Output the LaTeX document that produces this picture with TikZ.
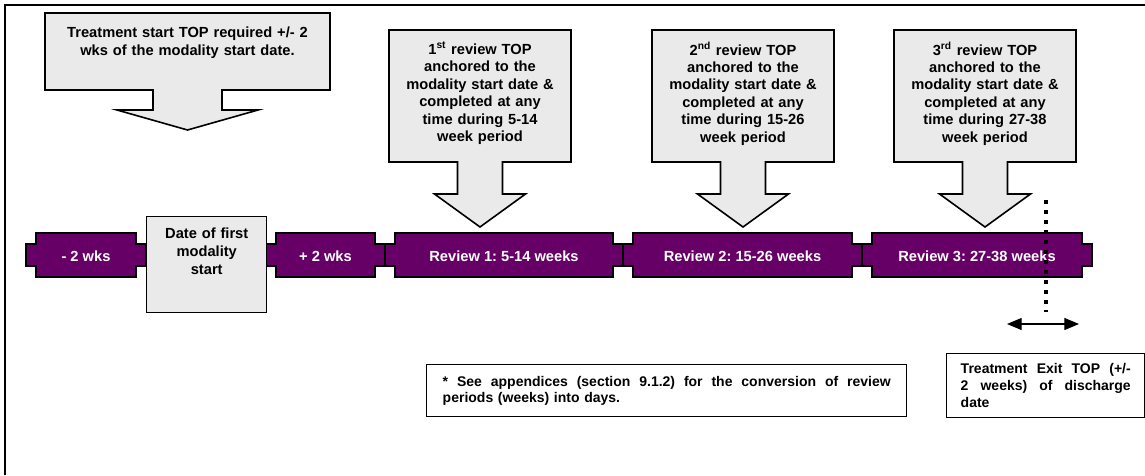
\documentclass[tikz,border=0pt]{standalone}
\usepackage{fontspec}
\setmainfont{Liberation Sans}
\usetikzlibrary{arrows.meta,positioning}
\definecolor{plum}{HTML}{660066}
\definecolor{pale}{HTML}{EAEAEA}
\newcommand{\spreadline}[2]{\makebox[#1][s]{\spaceskip=0.28em plus 1fil\relax #2}}

\begin{document}
\frenchspacing
\begin{tikzpicture}[x=0.75pt,y=-0.75pt,
  font=\bfseries\fontsize{11}{13.5}\selectfont,
  callout/.style={draw=black,line width=1.2pt,fill=pale,line join=miter},
  calltext/.style={anchor=north,inner sep=0pt,align=center,text width=132pt},
  seg/.style={draw=black,line width=1.1pt,fill=plum},
  segtext/.style={text=white,inner sep=0pt},
  datebox/.style={draw=black,line width=1.1pt,fill=pale,minimum width=90pt,minimum height=72pt,inner sep=0pt,anchor=north west},
  notebox/.style={draw=black,line width=1.1pt,fill=white,inner sep=0pt,align=left,anchor=north west},
  dotline/.style={line width=3.2pt,dash pattern=on 3.2pt off 4.3pt},
  span/.style={{Triangle[length=11pt,width=9pt]}-{Triangle[length=11pt,width=9pt]},line width=0.8pt}]
  \useasboundingbox (0,0) rectangle (1145,475);
  \draw[line width=1.5pt] (5,475) -- (5,5) -- (1145,5);
  % start callout
  \draw[callout] (45,13) -- (330,13) -- (330,90) -- (222,90) -- (222,110) -- (258,110) -- (187.5,130)
    -- (117,110) -- (153,110) -- (153,90) -- (45,90) -- cycle;
  \node[calltext,text width=205pt] (start) at (187.5,27) {Treatment start TOP required +/- 2\\wks of the modality start date.};
  % review callouts at box centres
  \foreach \c/\n/\sx/\rng/\nm in {480/1/st/5-14/revA, 743/2/nd/15-26/revB, 985/3/rd/27-38/revC}{
    \draw[callout] ({\c-91},30) -- ({\c+91},30) -- ({\c+91},162) -- ({\c+22.5},162) -- ({\c+22.5},194)
      -- ({\c+45.5},194) -- (\c,227) -- ({\c-45.5},194) -- ({\c-22.5},194) -- ({\c-22.5},162) -- ({\c-91},162) -- cycle;
    \node[calltext,font=\bfseries\fontsize{11}{13.1}\selectfont] (\nm) at (\c,42)
      {\n\textsuperscript{\sx} review TOP\\anchored to the\\modality start date \&\\completed at any\\time during \rng\\week period};
  }
  % timeline bar
  \foreach \a/\b/\nm/\txt in {26/146/minus/- 2 wks, 266/385/plus/+ 2 wks, 385/623/revone/Review 1: 5-14 weeks,
      623/862/revtwo/Review 2: 15-26 weeks, 862/1092/revthree/Review 3: 27-38 weeks}{
    \draw[seg] (\a,244) -| ({\a+10},233) -| ({\b-10},244) -| (\b,266) -| ({\b-10},277) -| ({\a+10},266) -| (\a,244) -- cycle;
    \node[segtext] (\nm) at ({(\a+\b)/2},256) {\txt};
  }
  \node[datebox] (date) at (146,216) {};
  \node[calltext,below=8.5pt of date.north,text width=85pt] (datetxt) {Date of first\\modality\\start};
  % discharge window
  \coordinate (dtop) at (1046,200);
  \coordinate (dbot) at (1046,312);
  \draw[dotline] (dtop) -- (dbot);
  \coordinate (exL) at (1007,324);
  \coordinate (exR) at (1079,324);
  \draw[span] (exL) -- (exR);
  \node[notebox,text width=336pt,minimum width=360pt,minimum height=39pt,font=\bfseries\fontsize{10.5}{11.5}\selectfont] (note) at (426,364)
    {\spreadline{336pt}{* See appendices (section 9.1.2) for the conversion of review}\\periods (weeks) into days.};
  \node[notebox,text width=127.5pt,minimum width=148.5pt,minimum height=48pt,font=\bfseries\fontsize{10.5}{12.75}\selectfont] (exit) at (946,353)
    {\spreadline{127.5pt}{Treatment Exit TOP (+/-}\\\spreadline{127.5pt}{2 weeks) of discharge}\\date};
\end{tikzpicture}
\end{document}
